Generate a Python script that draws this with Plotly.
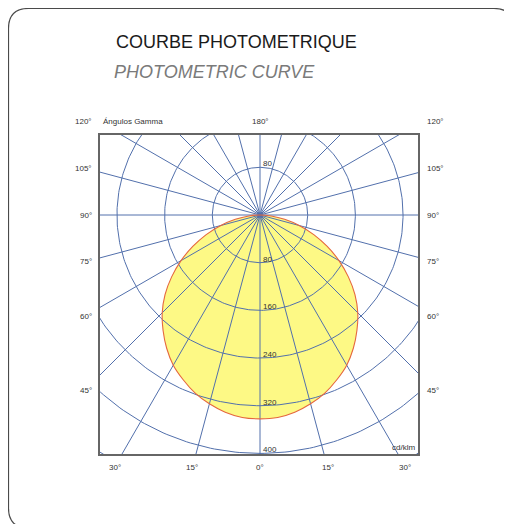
import numpy as np
import plotly.graph_objects as go

# ---- data ----
GAMMA_DEG = [0, 5, 10, 15, 20, 25, 30, 35, 40, 45, 50, 55, 60, 65, 70, 75, 80, 85, 90]
INTENSITY = [342, 341, 336, 328, 318, 305, 291, 273, 253, 232, 208, 181, 153, 124, 96, 68, 42, 19, 0]
RING_VALUES = [80, 160, 240, 320, 400, 480]
RING_LABELS = ["80", "160", "240", "320", "400"]
RAY_ANGLES = list(range(0, 360, 15))
SIDE_ANGLES = [45, 60, 75, 90, 105]
BOTTOM_ANGLES = [-30, -15, 0, 15, 30]
TITLE = "COURBE PHOTOMETRIQUE"
SUBTITLE = "PHOTOMETRIC CURVE"
UNIT = "cd/klm"
AXIS_NAME = "Ángulos Gamma"

# ---- layout geometry (page pixels) ----
W, H = 512, 524
BODY = 8                              # default page body margin
PL, PR, PT, PB = 100, 418, 135, 454   # plot box on the page
CX, CY = 260, 215                     # polar centre on the page
S = 0.596                             # px per cd/klm
FONT = "Liberation Sans, Arial, sans-serif"
GRID = "#5270ac"

def dx(px):   # page x -> data x
    return (px - CX) / S

def dy(py):   # page y -> data y
    return (CY - py) / S

def paper_x(px):
    return (px - PL) / (PR - PL)

def paper_y(py):
    return (PB - py) / (PB - PT)

fig = go.Figure()

# photometric curve (mirrored, gamma 0 pointing down)
g = np.array([-a for a in GAMMA_DEG[::-1]] + GAMMA_DEG[1:], dtype=float)
I = np.array(INTENSITY[::-1] + INTENSITY[1:], dtype=float)
cx = I * np.sin(np.radians(g))
cy = -I * np.cos(np.radians(g))
fig.add_trace(go.Scatter(x=cx, y=cy, mode="lines", fill="toself",
                         fillcolor="#fdf985", line=dict(color="rgba(0,0,0,0)", width=0, shape="spline"),
                         hoverinfo="skip", showlegend=False))

# grid circles
t = np.linspace(0, 2 * np.pi, 361)
for r in RING_VALUES:
    fig.add_trace(go.Scatter(x=r * np.cos(t), y=r * np.sin(t), mode="lines",
                             line=dict(color=GRID, width=1), hoverinfo="skip", showlegend=False))

# rays
rx, ry = [], []
R = 2000
for a in RAY_ANGLES:
    rx += [0, R * np.sin(np.radians(a)), None]
    ry += [0, -R * np.cos(np.radians(a)), None]
fig.add_trace(go.Scatter(x=rx, y=ry, mode="lines", line=dict(color=GRID, width=1),
                         hoverinfo="skip", showlegend=False))

# curve outline
fig.add_trace(go.Scatter(x=cx, y=cy, mode="lines",
                         line=dict(color="#e5673f", width=1.1, shape="spline"),
                         hoverinfo="skip", showlegend=False))

ann = []
tf = dict(family=FONT, size=8, color="#333333")

def label(px, py, text, xanchor="center", yanchor="middle", **kw):
    ann.append(dict(xref="paper", yref="paper", x=paper_x(px), y=paper_y(py), text=text,
                    showarrow=False, xanchor=xanchor, yanchor=yanchor, font=tf, **kw))

# ring labels along the 0° and 180° rays
for v, lab in zip(RING_VALUES, RING_LABELS):
    label(CX + 1, CY + v * S + 3, lab, xanchor="left", yanchor="bottom")
label(CX + 1, CY - RING_VALUES[0] * S + 3, RING_LABELS[0], xanchor="left", yanchor="bottom")
label(417, 447, UNIT, xanchor="right")

# side angle labels (along each ray, 175 px out from centre horizontally)
off = 175
for a in SIDE_ANGLES:
    yy = CY + (off / np.tan(np.radians(a)) if a != 90 else 0.0)
    label(94, yy, f"{a}°", xanchor="right")
    label(425, yy, f"{a}°", xanchor="left")
# bottom labels
ybot = 467
for a in BOTTOM_ANGLES:
    label(CX + (ybot - CY) * np.tan(np.radians(a)), ybot, f"{abs(a)}°")
# top row
ytop = 121
label(94, ytop, "120°", xanchor="right")
label(425, ytop, "120°", xanchor="left")
label(CX, ytop, "180°")
label(101, ytop, AXIS_NAME, xanchor="left")

# titles
ann.append(dict(xref="paper", yref="paper", x=paper_x(114), y=paper_y(42), text=TITLE,
                showarrow=False, xanchor="left", yanchor="middle",
                font=dict(family=FONT, size=18, color="#1a1a1a")))
ann.append(dict(xref="paper", yref="paper", x=paper_x(112), y=paper_y(72), text=f"<i>{SUBTITLE}</i>",
                showarrow=False, xanchor="left", yanchor="middle",
                font=dict(family=FONT, size=18, color="#7a7a7a")))

# outer rounded card border
x0, y0, x1, y1, rr = 8.5, 8.5, 514, 528, 20
def P(px, py):
    return f"{paper_x(px):.5f},{paper_y(py):.5f}"
path = (f"M {P(x0 + rr, y0)} L {P(x1 - rr, y0)} Q {P(x1, y0)} {P(x1, y0 + rr)} "
        f"L {P(x1, y1 - rr)} Q {P(x1, y1)} {P(x1 - rr, y1)} "
        f"L {P(x0 + rr, y1)} Q {P(x0, y1)} {P(x0, y1 - rr)} "
        f"L {P(x0, y0 + rr)} Q {P(x0, y0)} {P(x0 + rr, y0)} Z")

fig.update_layout(
    width=W, height=H, autosize=False,
    margin=dict(l=PL - BODY, r=W - (PR - BODY), t=PT - BODY, b=H - (PB - BODY), pad=0),
    paper_bgcolor="white", plot_bgcolor="white",
    xaxis=dict(range=[dx(PL), dx(PR)], showgrid=False, zeroline=False, showticklabels=False,
               ticks="", showline=True, mirror=True, linecolor="#666666", linewidth=1.6, fixedrange=True),
    yaxis=dict(range=[dy(PB), dy(PT)], showgrid=False, zeroline=False, showticklabels=False,
               ticks="", showline=True, mirror=True, linecolor="#666666", linewidth=1.6, fixedrange=True),
    annotations=ann,
    shapes=[dict(type="path", xref="paper", yref="paper", path=path,
                 line=dict(color="#4a4a4a", width=1.2), layer="below")],
    showlegend=False,
)

fig.write_html("out.html")
